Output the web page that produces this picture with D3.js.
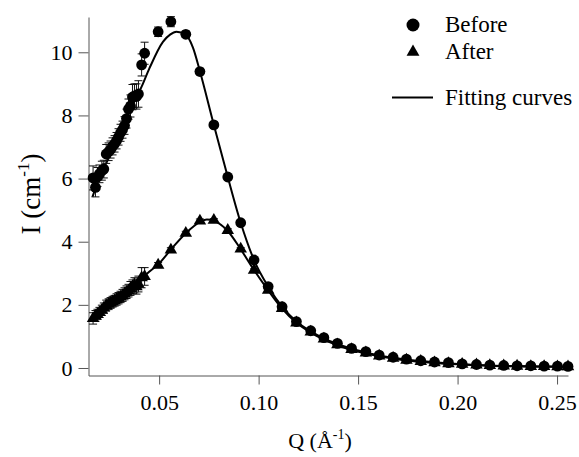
<!DOCTYPE html>
<html>
<head>
<meta charset="utf-8">
<script src="https://cdn.jsdelivr.net/npm/d3@7"></script>
<style>
  body { margin: 0; background: #fff; }
  svg { display: block; }
  text { font-family: "Liberation Serif", Tinos, "Times New Roman", Times, "DejaVu Serif", serif; fill: #000; }
</style>
</head>
<body>
<svg id="chart" width="579" height="457"></svg>
<script>
// Scattering vector Q (1/Å), shared by both measurements
const qValues = [
  0.0168, 0.0180, 0.0190, 0.0200, 0.0212, 0.0222, 0.0234, 0.0246, 0.0256, 0.0266,
  0.0276, 0.0286, 0.0296, 0.0306, 0.0316, 0.0326, 0.0336, 0.0346, 0.0356, 0.0366,
  0.0376, 0.0386, 0.0396, 0.0412, 0.0427,
  0.0495, 0.0559, 0.0634, 0.0705, 0.0775, 0.0845, 0.0910, 0.0977, 0.1048, 0.1118,
  0.1190, 0.1262, 0.1328, 0.1396, 0.1467, 0.1539, 0.1606, 0.1676, 0.1743, 0.1815,
  0.1884, 0.1954, 0.2023, 0.2095, 0.2162, 0.2232, 0.2299, 0.2368, 0.2435, 0.2502,
  0.2555
];

// Intensity I (1/cm) before treatment, with uncertainties
const beforeI = [
  6.02, 5.72, 6.05, 6.15, 6.25, 6.30, 6.78, 6.85, 6.92, 7.02,
  7.10, 7.20, 7.32, 7.45, 7.55, 7.68, 7.90, 8.20, 8.30, 8.58,
  8.62, 8.60, 8.68, 9.60, 9.97,
  10.65, 10.97, 10.57, 9.39, 7.70, 6.05, 4.60, 3.42, 2.58, 1.94,
  1.47, 1.18, 0.96, 0.78, 0.62, 0.52, 0.41, 0.34, 0.28, 0.23,
  0.19, 0.17, 0.13, 0.11, 0.09, 0.08, 0.07, 0.07, 0.06, 0.06,
  0.05
];
const beforeErr = [
  0.38, 0.30, 0.30, 0.28, 0.30, 0.28, 0.30, 0.28, 0.27, 0.27,
  0.26, 0.26, 0.26, 0.27, 0.27, 0.28, 0.30, 0.32, 0.35, 0.40,
  0.38, 0.40, 0.42, 0.35, 0.35,
  0.15, 0.16, 0.10, 0.10, 0.08, 0.07, 0.06, 0.05, 0.04, 0.04,
  0.03, 0.03, 0.03, 0.02, 0.02, 0.02, 0.02, 0.02, 0.02, 0.02,
  0.02, 0.02, 0.02, 0.02, 0.02, 0.02, 0.02, 0.02, 0.02, 0.02,
  0.02
];

// Intensity I (1/cm) after treatment, with uncertainties
const afterI = [
  1.57, 1.65, 1.70, 1.76, 1.83, 1.90, 1.98, 2.02, 2.06, 2.10,
  2.13, 2.17, 2.21, 2.25, 2.30, 2.35, 2.40, 2.45, 2.52, 2.57,
  2.62, 2.58, 2.66, 2.86, 2.90,
  3.26, 3.74, 4.27, 4.66, 4.68, 4.36, 3.77, 3.10, 2.47, 1.89,
  1.43, 1.14, 0.92, 0.74, 0.59, 0.48, 0.38, 0.31, 0.25, 0.21,
  0.17, 0.14, 0.12, 0.10, 0.08, 0.07, 0.06, 0.05, 0.05, 0.04,
  0.04
];
const afterErr = [
  0.18, 0.17, 0.16, 0.16, 0.16, 0.16, 0.17, 0.17, 0.17, 0.17,
  0.17, 0.18, 0.18, 0.18, 0.19, 0.19, 0.20, 0.20, 0.22, 0.22,
  0.24, 0.24, 0.25, 0.32, 0.28,
  0.08, 0.07, 0.06, 0.06, 0.05, 0.05, 0.04, 0.04, 0.03, 0.03,
  0.03, 0.02, 0.02, 0.02, 0.02, 0.02, 0.02, 0.02, 0.02, 0.02,
  0.02, 0.02, 0.02, 0.02, 0.02, 0.02, 0.02, 0.02, 0.02, 0.02,
  0.02
];

// Model fits
const fitBeforeQ = [0.0165, 0.020, 0.025, 0.030, 0.035, 0.0412, 0.0451, 0.052, 0.0555, 0.0587,
  0.0634, 0.067, 0.0705, 0.0775, 0.0845, 0.091, 0.0977, 0.1048, 0.1118, 0.119,
  0.1262, 0.1328, 0.1396, 0.1467, 0.1539, 0.1606, 0.1743, 0.1884, 0.2023, 0.2162,
  0.2299, 0.2435, 0.2555];
const fitBeforeI = [5.42, 6.02, 6.70, 7.42, 8.13, 8.91, 9.49, 10.34, 10.56, 10.65,
  10.55, 10.15, 9.40, 7.70, 6.05, 4.60, 3.42, 2.58, 1.94, 1.47,
  1.16, 0.94, 0.76, 0.61, 0.49, 0.40, 0.27, 0.18, 0.12, 0.08,
  0.06, 0.05, 0.04];
const fitAfterQ = [0.0165, 0.020, 0.025, 0.030, 0.035, 0.040, 0.045, 0.0495, 0.0559, 0.0634,
  0.0705, 0.074, 0.0775, 0.0845, 0.091, 0.0977, 0.1048, 0.1118, 0.119, 0.1262,
  0.1328, 0.1396, 0.1467, 0.1539, 0.1606, 0.1743, 0.1884, 0.2023, 0.2162, 0.2299,
  0.2435, 0.2555];
const fitAfterI = [1.55, 1.74, 2.02, 2.24, 2.48, 2.76, 3.05, 3.28, 3.75, 4.27,
  4.62, 4.70, 4.66, 4.34, 3.76, 3.10, 2.46, 1.88, 1.43, 1.12,
  0.90, 0.72, 0.57, 0.46, 0.37, 0.24, 0.16, 0.11, 0.07, 0.05,
  0.04, 0.03];

const xTicks = [0.05, 0.10, 0.15, 0.20, 0.25];
const yTicks = [0, 2, 4, 6, 8, 10];

const serif = '"Liberation Serif", Tinos, "Times New Roman", Times, "DejaVu Serif", serif';
const svg = d3.select("#chart");
const plot = { left: 88.5, right: 568, top: 17, bottom: 375.5 };

const x = d3.scaleLinear().domain([0.0145, 0.2555]).range([plot.left, plot.right]);
const y = d3.scaleLinear().domain([-0.238, 11.118]).range([plot.bottom, plot.top]);

const axisColor = "#555";

// Axes
const xAxis = svg.append("g")
  .attr("transform", `translate(0,${plot.bottom})`)
  .call(d3.axisBottom(x).tickValues(xTicks).tickFormat(d3.format(".2f")).tickSize(9).tickSizeOuter(0).tickPadding(18));
const yAxis = svg.append("g")
  .attr("transform", `translate(${plot.left},0)`)
  .call(d3.axisLeft(y).tickValues(yTicks).tickFormat(d3.format("d")).tickSize(10).tickSizeOuter(0).tickPadding(6));

[xAxis, yAxis].forEach(g => {
  g.attr("font-family", serif).attr("font-size", 22);
  g.select(".domain").attr("stroke", axisColor).attr("stroke-width", 1);
  g.selectAll(".tick line").attr("stroke", axisColor).attr("stroke-width", 1);
  g.selectAll(".tick text").attr("fill", "#000");
});
xAxis.selectAll(".tick text").attr("dy", "0.35em");

// Axis titles
svg.append("text")
  .attr("x", 320).attr("y", 448)
  .attr("text-anchor", "middle")
  .attr("font-family", serif)
  .attr("font-size", 22)
  .call(t => {
    t.append("tspan").text("Q (Å");
    t.append("tspan").attr("dy", -9).attr("font-size", 14).text("-1");
    t.append("tspan").attr("dy", 9).text(")");
  });

svg.append("text")
  .attr("transform", "translate(40,194) rotate(-90)")
  .attr("text-anchor", "middle")
  .attr("font-family", serif)
  .attr("font-size", 27)
  .call(t => {
    t.append("tspan").text("I (cm");
    t.append("tspan").attr("dy", -11).attr("font-size", 17).text("-1");
    t.append("tspan").attr("dy", 11).text(")");
  });

// Fitting curves
const line = d3.line().x(d => x(d[0])).y(d => y(d[1])).curve(d3.curveMonotoneX);
const fits = [d3.zip(fitBeforeQ, fitBeforeI), d3.zip(fitAfterQ, fitAfterI)];
svg.append("g").selectAll("path").data(fits).join("path")
  .attr("d", line)
  .attr("fill", "none")
  .attr("stroke", "#000")
  .attr("stroke-width", 2);

// Measured points with error bars
const beforeData = qValues.map((q, i) => ({ q, v: beforeI[i], e: beforeErr[i] }));
const afterData = qValues.map((q, i) => ({ q, v: afterI[i], e: afterErr[i] }));

function errorBars(data) {
  const g = svg.append("g").attr("stroke", "#111").attr("stroke-width", 1);
  g.selectAll("line.v").data(data).join("line").attr("class", "v")
    .attr("x1", d => x(d.q)).attr("x2", d => x(d.q))
    .attr("y1", d => y(d.v - d.e)).attr("y2", d => y(d.v + d.e));
  [-1, 1].forEach(s => {
    g.selectAll(`line.c${s}`).data(data).join("line").attr("class", `c${s}`)
      .attr("x1", d => x(d.q) - 4).attr("x2", d => x(d.q) + 4)
      .attr("y1", d => y(d.v + s * d.e)).attr("y2", d => y(d.v + s * d.e));
  });
}
errorBars(afterData);
errorBars(beforeData);

const tri = d3.symbol().type(d3.symbolTriangle).size(68);
svg.append("g").selectAll("path").data(afterData).join("path")
  .attr("transform", d => `translate(${x(d.q)},${y(d.v)})`)
  .attr("d", tri)
  .attr("fill", "#000");

svg.append("g").selectAll("circle").data(beforeData).join("circle")
  .attr("cx", d => x(d.q)).attr("cy", d => y(d.v))
  .attr("r", 5.4)
  .attr("fill", "#000");

// Legend
const legend = svg.append("g");
legend.append("circle").attr("cx", 413).attr("cy", 25).attr("r", 6.5).attr("fill", "#000");
legend.append("path").attr("transform", "translate(413,52)")
  .attr("d", d3.symbol().type(d3.symbolTriangle).size(72)).attr("fill", "#000");
legend.append("line").attr("x1", 392).attr("x2", 433).attr("y1", 97.5).attr("y2", 97.5)
  .attr("stroke", "#000").attr("stroke-width", 2);
const legendLabels = ["Before", "After", "Fitting curves"];
const legendY = [32, 59, 105];
legend.selectAll("text").data(legendLabels).join("text")
  .attr("x", 445).attr("y", (d, i) => legendY[i])
  .attr("font-family", serif)
  .attr("font-size", 23)
  .text(d => d);
</script>
</body>
</html>
